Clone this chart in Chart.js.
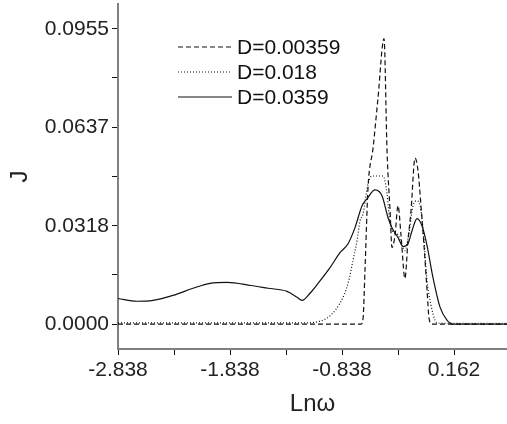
<!DOCTYPE html>
<html>
<head>
<meta charset="utf-8">
<script src="https://cdn.jsdelivr.net/npm/chart.js@4/dist/chart.umd.min.js"></script>
<style>
  html, body { margin: 0; padding: 0; background: #fff; }
  #wrap { width: 507px; height: 424px; }
</style>
</head>
<body>
<div id="wrap"><canvas id="chart" width="507" height="424"></canvas></div>
<script>
// series data
const labels = ['D=0.00359', 'D=0.018', 'D=0.0359'];

const xDashed = [-2.838, -0.668, -0.650, -0.633, -0.606, -0.561, -0.517, -0.463, -0.436, -0.409, -0.392, -0.365, -0.338, -0.311, -0.276, -0.249, -0.222, -0.186, -0.159, -0.133, -0.106, -0.079, -0.061, -0.034, 0.635];
const yDashed = [0.0, 0.0, 0.0019, 0.0174, 0.0440, 0.0569, 0.0730, 0.0923, 0.0559, 0.0367, 0.0248, 0.0286, 0.0383, 0.0286, 0.0148, 0.0270, 0.0367, 0.0537, 0.0495, 0.0383, 0.0254, 0.0110, 0.0019, 0.0, 0.0];

const xDotted = [-2.838, -1.2, -1.008, -0.856, -0.784, -0.740, -0.704, -0.677, -0.650, -0.606, -0.570, -0.517, -0.472, -0.436, -0.409, -0.374, -0.338, -0.302, -0.276, -0.240, -0.204, -0.168, -0.133, -0.106, -0.079, -0.043, -0.008, 0.019, 0.635];
const yDotted = [0.0004, 0.0004, 0.0013, 0.0068, 0.0132, 0.0206, 0.0270, 0.0334, 0.0357, 0.0453, 0.0479, 0.0479, 0.0479, 0.0421, 0.0325, 0.0296, 0.0289, 0.0254, 0.0238, 0.0296, 0.0383, 0.0399, 0.0367, 0.0270, 0.0141, 0.0061, 0.0013, 0.0003, 0.0003];

const xSolid = [-2.838, -2.668, -2.525, -2.347, -2.168, -2.016, -1.865, -1.650, -1.498, -1.329, -1.240, -1.195, -1.124, -1.052, -0.945, -0.856, -0.784, -0.722, -0.659, -0.615, -0.543, -0.481, -0.427, -0.392, -0.338, -0.293, -0.249, -0.213, -0.168, -0.124, -0.079, -0.026, 0.037, 0.099, 0.153, 0.635];
const ySolid = [0.0083, 0.0074, 0.0077, 0.0093, 0.0116, 0.0132, 0.0135, 0.0125, 0.0116, 0.0106, 0.0087, 0.0077, 0.0100, 0.0132, 0.0183, 0.0231, 0.0260, 0.0312, 0.0383, 0.0405, 0.0434, 0.0415, 0.0344, 0.0312, 0.0280, 0.0251, 0.0260, 0.0302, 0.0341, 0.0318, 0.0254, 0.0151, 0.0055, 0.0013, 0.0, 0.0];

// axis ticks
const xTickValues = [-2.838, -2.338, -1.838, -1.338, -0.838, -0.338, 0.162];
const yTickValues = [0, 0.0159, 0.0318, 0.0477, 0.0637, 0.0796, 0.0955];
const xLabeled = [-2.838, -1.838, -0.838, 0.162];
const yLabeled = [0, 0.0318, 0.0637, 0.0955];

function toPoints(xs, ys) {
    return xs.map((x, i) => ({ x: x, y: ys[i] }));
}

const legendInside = {
    id: 'legendInside',
    afterDraw(chart) {
        const ctx = chart.ctx;
        ctx.save();
        ctx.font = '21px "Liberation Sans", Arial, sans-serif';
        ctx.fillStyle = '#111';
        ctx.textBaseline = 'middle';
        chart.data.datasets.forEach((ds, i) => {
            const y = 47 + i * 25;
            ctx.beginPath();
            ctx.setLineDash(ds.borderDash || []);
            ctx.strokeStyle = ds.borderColor;
            ctx.lineWidth = ds.borderWidth;
            ctx.moveTo(178, y);
            ctx.lineTo(232, y);
            ctx.stroke();
            ctx.setLineDash([]);
            ctx.fillText(ds.label, 237, y + 1);
        });
        ctx.restore();
    }
};

const tickFont = { family: '"Liberation Sans", Arial, sans-serif', size: 21 };

new Chart(document.getElementById('chart').getContext('2d'), {
    type: 'line',
    data: {
        datasets: [
            {
                label: labels[0],
                data: toPoints(xDashed, yDashed),
                borderColor: '#111',
                borderWidth: 1.2,
                borderDash: [5, 3],
                pointRadius: 0,
                cubicInterpolationMode: 'monotone'
            },
            {
                label: labels[1],
                data: toPoints(xDotted, yDotted),
                borderColor: '#111',
                borderWidth: 1.2,
                borderDash: [1, 2],
                pointRadius: 0,
                cubicInterpolationMode: 'monotone'
            },
            {
                label: labels[2],
                data: toPoints(xSolid, ySolid),
                borderColor: '#111',
                borderWidth: 1.2,
                pointRadius: 0,
                cubicInterpolationMode: 'monotone'
            }
        ]
    },
    options: {
        responsive: false,
        animation: false,
        layout: { padding: { top: 4, right: 0, left: 0, bottom: 0 } },
        plugins: {
            legend: { display: false },
            tooltip: { enabled: false }
        },
        scales: {
            x: {
                type: 'linear',
                min: -2.838,
                max: 0.635,
                afterBuildTicks: scale => {
                    scale.ticks = xTickValues.map(v => ({ value: v }));
                },
                afterFit: scale => {
                    scale.height = 75;
                    scale.paddingLeft = 0;
                    scale.paddingRight = 0;
                },
                grid: { drawOnChartArea: false, tickLength: 6, tickColor: '#111' },
                border: { color: '#808080', width: 2 },
                ticks: {
                    autoSkip: false,
                    maxRotation: 0,
                    color: '#222',
                    font: tickFont,
                    padding: 3,
                    callback: v => xLabeled.some(t => Math.abs(t - v) < 1e-6) ? v.toFixed(3) : ''
                },
                title: {
                    display: true,
                    text: 'Lnω',
                    color: '#222',
                    font: { family: '"Liberation Sans", Arial, sans-serif', size: 24 },
                    padding: { top: 0, bottom: 5 }
                }
            },
            y: {
                type: 'linear',
                min: -0.00803,
                max: 0.1035,
                afterBuildTicks: scale => {
                    scale.ticks = yTickValues.map(v => ({ value: v }));
                },
                afterFit: scale => {
                    scale.width = 118;
                    scale.paddingTop = 0;
                    scale.paddingBottom = 0;
                },
                grid: { drawOnChartArea: false, tickLength: 6, tickColor: '#111' },
                border: { color: '#808080', width: 2 },
                ticks: {
                    color: '#222',
                    font: tickFont,
                    padding: 3,
                    callback: v => yLabeled.some(t => Math.abs(t - v) < 1e-6) ? v.toFixed(4) : ''
                },
                title: {
                    display: true,
                    text: 'J',
                    color: '#222',
                    font: { family: '"Liberation Sans", Arial, sans-serif', size: 24 },
                    padding: { top: 6, bottom: 0 }
                }
            }
        }
    },
    plugins: [legendInside]
});
</script>
</body>
</html>
